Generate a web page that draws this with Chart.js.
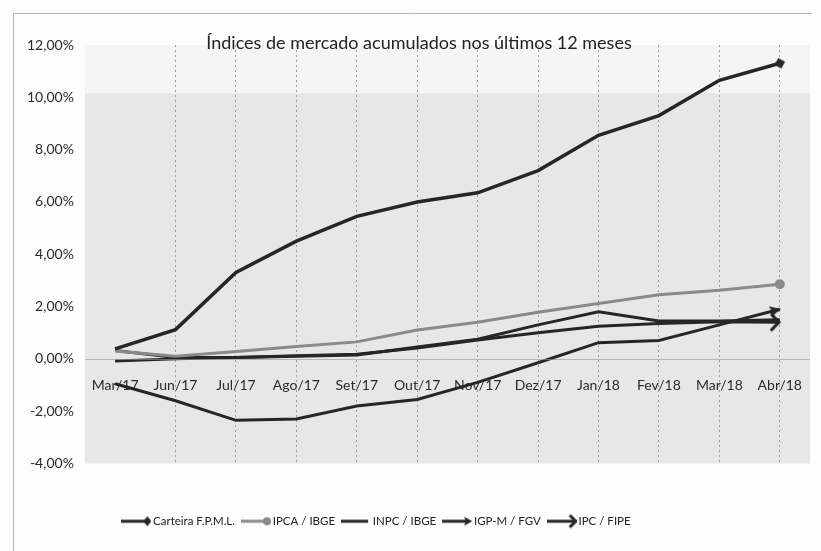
<!DOCTYPE html>
<html>
<head>
<meta charset="utf-8">
<script src="https://cdn.jsdelivr.net/npm/chart.js@4.4.1/dist/chart.umd.min.js"></script>
<style>
  html, body { margin: 0; padding: 0; background: #fdfdfd; }
  #wrap { width: 821px; height: 551px; position: relative; }
</style>
</head>
<body>
<div id="wrap"><canvas id="chart" width="821" height="551"></canvas></div>
<script>
const CHART_TITLE = "Índices de mercado acumulados nos últimos 12 meses";
const MONTHS = ["Mar/17", "Jun/17", "Jul/17", "Ago/17", "Set/17", "Out/17", "Nov/17", "Dez/17", "Jan/18", "Fev/18", "Mar/18", "Abr/18"];
const Y_TICKS = [-4, -2, 0, 2, 4, 6, 8, 10, 12];

const CARTEIRA = [0.38, 1.12, 3.3, 4.5, 5.45, 6.0, 6.35, 7.2, 8.55, 9.3, 10.65, 11.3];
const IPCA = [0.3, 0.1, 0.28, 0.47, 0.65, 1.1, 1.4, 1.78, 2.12, 2.45, 2.62, 2.85];
const INPC = [-0.08, 0.0, 0.05, 0.1, 0.15, 0.45, 0.75, 1.3, 1.8, 1.45, 1.45, 1.5];
const IGPM = [-0.95, -1.6, -2.35, -2.3, -1.8, -1.55, -0.9, -0.15, 0.62, 0.7, 1.3, 1.9];
const IPC = [0.32, 0.05, 0.05, 0.12, 0.18, 0.42, 0.72, 1.0, 1.25, 1.35, 1.42, 1.4];

const DARK = '#262626';
const GREY = '#8a8a8a';
const FONT = 'Lato';

// small marker images (tip of arrows sits at the image centre)
function makeCanvas(w, h, draw) {
  const c = document.createElement('canvas');
  c.width = w; c.height = h;
  draw(c.getContext('2d'), w, h);
  return c;
}
const diamondImg = makeCanvas(11, 11, (g) => {
  g.fillStyle = DARK; g.beginPath();
  g.moveTo(5.5, 0); g.lineTo(11, 5.5); g.lineTo(5.5, 11); g.lineTo(0, 5.5); g.closePath(); g.fill();
});
const headImg = makeCanvas(24, 12, (g) => {
  g.fillStyle = DARK; g.beginPath();
  g.moveTo(13, 6); g.lineTo(2, 0.5); g.lineTo(4, 6); g.lineTo(2, 11.5); g.closePath(); g.fill();
});
const chevronImg = makeCanvas(28, 20, (g) => {
  g.strokeStyle = DARK; g.lineWidth = 3.2; g.lineCap = 'round'; g.beginPath();
  g.moveTo(6, 2.5); g.lineTo(13, 10); g.lineTo(6, 17.5); g.stroke();
});

// legend samples: line + marker
function legendSample(color, marker) {
  return makeCanvas(30, 16, (g) => {
    g.strokeStyle = color; g.lineWidth = 3; g.beginPath();
    g.moveTo(0, 8); g.lineTo(27, 8); g.stroke();
    g.fillStyle = color;
    if (marker === 'diamond') {
      g.beginPath(); g.moveTo(26, 3); g.lineTo(30, 8); g.lineTo(26, 13); g.lineTo(22, 8); g.closePath(); g.fill();
    } else if (marker === 'circle') {
      g.beginPath(); g.arc(26, 8, 4, 0, Math.PI * 2); g.fill();
    } else if (marker === 'head') {
      g.beginPath(); g.moveTo(30, 8); g.lineTo(22, 3.5); g.lineTo(23.5, 8); g.lineTo(22, 12.5); g.closePath(); g.fill();
    } else if (marker === 'chevron') {
      g.lineWidth = 3; g.beginPath(); g.moveTo(23, 2); g.lineTo(29, 8); g.lineTo(23, 14); g.stroke();
    }
  });
}

function lastOnly(val) {
  return (ctx) => ctx.dataIndex === ctx.dataset.data.length - 1 ? val : 0;
}
function endAngle(ctx) {
  const ch = ctx.chart, d = ctx.dataset.data, n = d.length;
  if (!ch.scales || !ch.scales.y || ctx.dataIndex !== n - 1) return 0;
  const x = ch.scales.x, y = ch.scales.y;
  const dx = x.getPixelForValue(n - 1) - x.getPixelForValue(n - 2);
  const dy = y.getPixelForValue(d[n - 1]) - y.getPixelForValue(d[n - 2]);
  return Math.atan2(dy, dx) * 180 / Math.PI;
}

function series(label, data, color, width, style, legendMarker) {
  return {
    label: label,
    data: data,
    borderColor: color,
    backgroundColor: color,
    borderWidth: width,
    tension: 0,
    pointStyle: style,
    pointRadius: lastOnly(style === 'circle' ? 5 : 6),
    pointHoverRadius: 0,
    pointRotation: endAngle,
    pointBorderWidth: 0,
    legendImg: legendSample(color, legendMarker)
  };
}

const bgPlugin = {
  id: 'bgPlugin',
  beforeDraw(chart) {
    const { ctx, chartArea: a, scales } = chart;
    ctx.save();
    // outer frame
    ctx.strokeStyle = '#b5b5b5'; ctx.lineWidth = 1;
    ctx.beginPath(); ctx.moveTo(13.5, 551); ctx.lineTo(13.5, 13.5); ctx.lineTo(812, 13.5); ctx.stroke();
    // shaded plot region
    const top = scales.y.getPixelForValue(10) - 4;
    ctx.fillStyle = '#f5f5f5';
    ctx.fillRect(a.left, a.top, a.right - a.left, top - a.top);
    ctx.fillStyle = '#e7e7e7';
    ctx.fillRect(a.left, top, a.right - a.left, a.bottom - top);
    ctx.restore();
  },
  afterDatasetsDraw(chart) {
    // solid zero line
    const { ctx, chartArea: a, scales } = chart;
    const y0 = Math.round(scales.y.getPixelForValue(0)) + 0.5;
    ctx.save();
    ctx.strokeStyle = 'rgba(150,150,150,0.6)'; ctx.lineWidth = 1;
    ctx.beginPath(); ctx.moveTo(a.left, y0); ctx.lineTo(a.right, y0); ctx.stroke();
    ctx.restore();
  },
  afterDraw(chart) {
    const { ctx } = chart;
    ctx.save();
    ctx.fillStyle = '#222';
    ctx.font = '18px ' + FONT;
    ctx.textAlign = 'center';
    ctx.textBaseline = 'middle';
    ctx.fillText(CHART_TITLE, 419, 43);
    ctx.restore();
  },
  afterLayout(chart) {
    const lg = chart.legend;
    if (lg) {
      lg.left -= 39; lg.right -= 39;
      lg.top += 42; lg.bottom += 42;
    }
  }
};

new Chart(document.getElementById('chart'), {
  type: 'line',
  data: {
    labels: MONTHS,
    datasets: [
      series('Carteira F.P.M.L.', CARTEIRA, DARK, 3.5, diamondImg, 'diamond'),
      series('IPCA / IBGE', IPCA, GREY, 3, 'circle', 'circle'),
      series('INPC / IBGE', INPC, DARK, 3, false, 'none'),
      series('IGP-M / FGV', IGPM, DARK, 3, headImg, 'head'),
      series('IPC / FIPE', IPC, DARK, 3, chevronImg, 'chevron')
    ]
  },
  options: {
    responsive: false,
    animation: false,
    layout: { padding: { top: 45, left: 24, right: 11, bottom: 56 } },
    plugins: {
      title: { display: false },
      tooltip: { enabled: false },
      legend: {
        position: 'bottom',
        labels: {
          usePointStyle: true,
          pointStyleWidth: 22,
          padding: 10,
          color: '#222',
          font: { family: FONT, size: 11.5 },
          generateLabels(chart) {
            return chart.data.datasets.map((ds, i) => ({
              text: ds.label,
              pointStyle: ds.legendImg,
              fillStyle: ds.borderColor,
              strokeStyle: ds.borderColor,
              lineWidth: 0,
              hidden: false,
              datasetIndex: i,
              fontColor: '#222'
            }));
          }
        }
      }
    },
    scales: {
      x: {
        position: { y: 0 },
        offset: true,
        grid: {
          offset: false,
          drawTicks: false,
          color: (ctx) => ctx.index === 0 ? 'rgba(0,0,0,0)' : '#9c9c9c'
        },
        border: { display: true, color: 'rgba(0,0,0,0)', width: 1, dash: [2, 3] },
        ticks: {
          color: '#2a2a2a',
          padding: 18,
          maxRotation: 0,
          autoSkip: false,
          font: { family: FONT, size: 14 }
        }
      },
      y: {
        min: Y_TICKS[0],
        max: Y_TICKS[Y_TICKS.length - 1],
        afterBuildTicks(scale) {
          scale.ticks = Y_TICKS.map(v => ({ value: v }));
        },
        grid: { display: false },
        border: { display: false },
        ticks: {
          color: '#2a2a2a',
          padding: 3,
          font: { family: FONT, size: 14 },
          callback: (v) => v.toFixed(2).replace('.', ',') + '%'
        }
      }
    }
  },
  plugins: [bgPlugin]
});
</script>
</body>
</html>
